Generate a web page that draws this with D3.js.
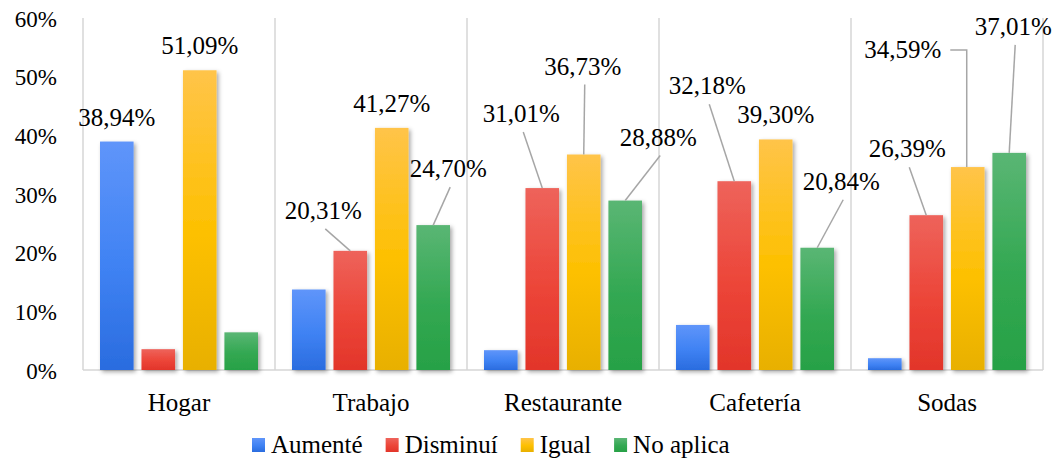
<!DOCTYPE html>
<html>
<head>
<meta charset="utf-8">
<script src="https://cdn.jsdelivr.net/npm/d3@7"></script>
<style>
  html, body { margin: 0; padding: 0; background: #ffffff; }
  svg { display: block; }
  svg text { font-family: "Liberation Serif", serif; }
</style>
</head>
<body>
<svg id="chart" width="1059" height="460"></svg>
<script>
// Categories, series and values (share of respondents, 0–1)
const categories = ["Hogar", "Trabajo", "Restaurante", "Cafetería", "Sodas"];
const seriesNames = ["Aumenté", "Disminuí", "Igual", "No aplica"];
const aumente   = [0.3894, 0.1372, 0.0338, 0.0768, 0.0201];
const disminui  = [0.0355, 0.2031, 0.3101, 0.3218, 0.2639];
const igual     = [0.5109, 0.4127, 0.3673, 0.3930, 0.3459];
const noAplica  = [0.0642, 0.2470, 0.2888, 0.2084, 0.3701];
const yTicks    = [0, 0.1, 0.2, 0.3, 0.4, 0.5, 0.6];

// Which values carry a data label
const labelled = [
  [true,  false, false, false, false],
  [false, true,  true,  true,  true ],
  [true,  true,  true,  true,  true ],
  [false, true,  true,  true,  true ]
];

// Label displacement from the bar top (px); missing = label sits right above the bar
const labelShift = {
  "Trabajo|Disminuí":     { dx: -27, dy: -32 },
  "Trabajo|No aplica":    { dx: 15,  dy: -48 },
  "Restaurante|Disminuí": { dx: -21, dy: -66 },
  "Restaurante|Igual":    { dx: -1,  dy: -80 },
  "Restaurante|No aplica":{ dx: 33,  dy: -55 },
  "Cafetería|Disminuí":   { dx: -27, dy: -87 },
  "Cafetería|No aplica":  { dx: 24,  dy: -58 },
  "Sodas|Disminuí":       { dx: -19, dy: -58 },
  "Sodas|Igual":          { dx: -65, dy: -109, elbow: true },
  "Sodas|No aplica":      { dx: 4,   dy: -118 }
};

const gradients = [
  ["#5f95fa", "#3f82f3", "#2a6cdf"],
  ["#ee635b", "#ec4538", "#e2352a"],
  ["#ffc449", "#fdc000", "#e8b000"],
  ["#5ab674", "#33a852", "#27a146"]
];

const values = [aumente, disminui, igual, noAplica];
const serif = "Liberation Serif";

const svg = d3.select("#chart").attr("font-family", serif);
const plotLeft = 83, plotRight = 1043, plotTop = 18, plotBottom = 370;

const x0 = d3.scaleBand().domain(categories).range([plotLeft, plotRight]).paddingInner(0).paddingOuter(0);
const x1 = d3.scaleBand().domain(seriesNames).range([0, x0.bandwidth()]).paddingInner(0.19).paddingOuter(0.41);
const y = d3.scaleLinear().domain([0, 0.6]).range([plotBottom, plotTop]);

const locale = d3.formatLocale({ decimal: ",", thousands: ".", grouping: [3], currency: ["", ""] });
const fmt = locale.format(".2%");
const tickFmt = locale.format(".0%");

// Definitions: bar gradients and soft shadow
const defs = svg.append("defs");
gradients.forEach((g, i) => {
  const grad = defs.append("linearGradient").attr("id", "grad" + i)
    .attr("x1", 0).attr("y1", 0).attr("x2", 0).attr("y2", 1);
  grad.append("stop").attr("offset", "0%").attr("stop-color", g[0]);
  grad.append("stop").attr("offset", "55%").attr("stop-color", g[1]);
  grad.append("stop").attr("offset", "100%").attr("stop-color", g[2]);
});
const shadow = defs.append("filter").attr("id", "shadow")
  .attr("x", "-30%").attr("y", "-10%").attr("width", "170%").attr("height", "130%");
shadow.append("feDropShadow").attr("dx", 2).attr("dy", 2).attr("stdDeviation", 2)
  .attr("flood-color", "#000").attr("flood-opacity", 0.35);

// Category separators and baseline
const gridColor = "#d6d6d6";
const bounds = categories.map(c => x0(c)).concat([plotRight]);
svg.append("g").selectAll("line").data(bounds).join("line")
  .attr("x1", d => d).attr("x2", d => d)
  .attr("y1", plotTop).attr("y2", plotBottom)
  .attr("stroke", gridColor).attr("stroke-width", 1.5);
svg.append("line")
  .attr("x1", plotLeft).attr("x2", plotRight).attr("y1", plotBottom).attr("y2", plotBottom)
  .attr("stroke", gridColor).attr("stroke-width", 1.5);

// Y axis labels
const yAxis = d3.axisLeft(y).tickValues(yTicks).tickFormat(tickFmt).tickSize(0).tickPadding(26);
const ya = svg.append("g").attr("transform", `translate(${plotLeft},0)`).call(yAxis)
  .attr("font-family", serif).attr("font-size", 23);
ya.select(".domain").remove();
ya.selectAll("text").attr("fill", "#000").attr("dy", "0.36em");

// X axis labels
const xAxis = d3.axisBottom(x0).tickSize(0).tickPadding(0);
const xa = svg.append("g").attr("transform", `translate(0,${plotBottom})`).call(xAxis)
  .attr("font-family", serif).attr("font-size", 25);
xa.select(".domain").remove();
xa.selectAll("text").attr("fill", "#000").attr("y", 41).attr("dy", 0);

// Bars
const barData = [];
seriesNames.forEach((s, si) => {
  categories.forEach((c, ci) => {
    barData.push({ c, s, si, ci, v: values[si][ci] });
  });
});

svg.append("g").attr("filter", "url(#shadow)")
  .selectAll("rect").data(barData).join("rect")
  .attr("x", d => x0(d.c) + x1(d.s))
  .attr("width", x1.bandwidth())
  .attr("y", d => y(d.v))
  .attr("height", d => plotBottom - y(d.v))
  .attr("fill", d => `url(#grad${d.si})`);

// Data labels with leader lines
const labels = barData.filter(d => labelled[d.si][d.ci]);
const labelGroup = svg.append("g").attr("font-family", serif).attr("font-size", 25);
labels.forEach(d => {
  const bx = x0(d.c) + x1(d.s) + x1.bandwidth() / 2;
  const by = y(d.v);
  const sh = labelShift[d.c + "|" + d.s];
  const tx = sh ? bx + sh.dx : bx;
  const ty = sh ? by + sh.dy : by - 16;
  const t = labelGroup.append("text")
    .attr("x", tx).attr("y", ty)
    .attr("text-anchor", "middle")
    .attr("fill", "#000")
    .text(fmt(d.v));
  if (sh) {
    if (sh.elbow) {
      const w = t.node().getComputedTextLength();
      const sx = tx + w / 2 + 9, sy = ty - 8;
      labelGroup.append("polyline")
        .attr("points", `${sx},${sy} ${bx - 1},${sy} ${bx - 1},${by}`)
        .attr("fill", "none").attr("stroke", "#a6a6a6").attr("stroke-width", 1.5);
    } else {
      labelGroup.append("line")
        .attr("x1", tx + 2).attr("y1", ty + 10)
        .attr("x2", bx).attr("y2", by)
        .attr("stroke", "#a6a6a6").attr("stroke-width", 1.5);
    }
  }
});

// Legend
const legend = svg.append("g").attr("font-family", serif).attr("font-size", 25);
let legendX = 252;
seriesNames.forEach((s, i) => {
  legend.append("rect").attr("x", legendX).attr("y", 438).attr("width", 13).attr("height", 14)
    .attr("fill", `url(#grad${i})`);
  const t = legend.append("text").attr("x", legendX + 19).attr("y", 453)
    .attr("fill", "#000").text(s);
  legendX += 19 + t.node().getComputedTextLength() + 23;
});
</script>
</body>
</html>
